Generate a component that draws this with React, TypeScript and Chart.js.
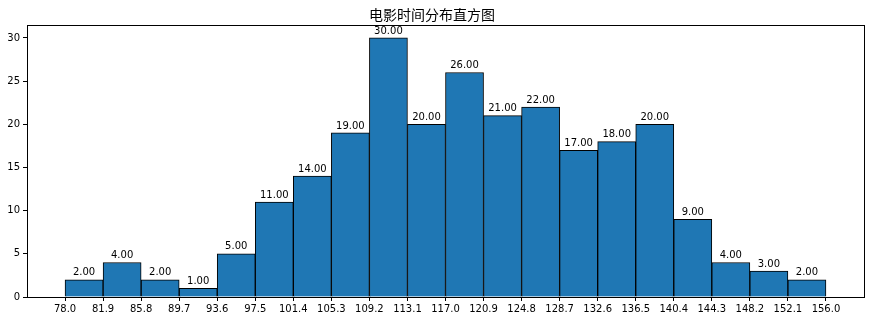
import React, { useEffect, useRef } from "react";
import { Chart, registerables } from "chart.js";

Chart.register(...registerables);

const binEdges = [78.0, 81.9, 85.8, 89.7, 93.6, 97.5, 101.4, 105.3, 109.2, 113.1, 117.0, 120.9, 124.8, 128.7, 132.6, 136.5, 140.4, 144.3, 148.2, 152.1, 156.0];
const counts = [2, 4, 2, 1, 5, 11, 14, 19, 30, 20, 26, 21, 22, 17, 18, 20, 9, 4, 3, 2];
const yTicks = [0, 5, 10, 15, 20, 25, 30];
const title = "电影时间分布直方图";

const FONT = "'DejaVu Sans', sans-serif";

export default function App() {
  const ref = useRef<HTMLCanvasElement | null>(null);
  useEffect(() => {
    document.body.style.margin = "0";
    const canvas = ref.current!;
    const points = counts.map((c, i) => ({ x: (binEdges[i] + binEdges[i + 1]) / 2, y: c }));
    const valueLabels = {
      id: "valueLabels",
      afterDatasetsDraw(chart: any) {
        const ctx = chart.ctx;
        const meta = chart.getDatasetMeta(0);
        ctx.save();
        ctx.fillStyle = "#000";
        ctx.font = "10px " + FONT;
        ctx.textAlign = "center";
        ctx.textBaseline = "bottom";
        meta.data.forEach((bar: any, i: number) => {
          ctx.fillText(counts[i].toFixed(2), bar.x, bar.y - 2);
        });
        ctx.restore();
      },
    };
    const frame = {
      id: "frame",
      afterDraw(chart: any) {
        const { left, top, right, bottom } = chart.chartArea;
        const ctx = chart.ctx;
        ctx.save();
        ctx.strokeStyle = "#000";
        ctx.lineWidth = 1;
        ctx.strokeRect(Math.round(left) + 0.5, Math.round(top) + 0.5, Math.round(right - left), Math.round(bottom - top));
        ctx.restore();
      },
    };
    const chart = new Chart(canvas, {
      type: "bar",
      data: {
        datasets: [
          {
            data: points as any,
            backgroundColor: "#1f77b4",
            borderColor: "#000",
            borderWidth: 1,
            barPercentage: 1,
            categoryPercentage: 1,
          },
        ],
      },
      options: {
        responsive: false,
        animation: false,
        layout: { padding: { left: 0, right: 10, top: 0, bottom: 0 } },
        plugins: {
          legend: { display: false },
          tooltip: { enabled: false },
          title: {
            display: true,
            text: title,
            color: "#000",
            font: { family: "'Noto Sans CJK SC', sans-serif", size: 14, weight: "normal" as any },
            padding: { top: 6, bottom: 2.2 },
          },
        },
        scales: {
          x: {
            type: "linear",
            min: 74.1,
            max: 159.9,
            offset: false,
            afterBuildTicks(scale: any) {
              scale.ticks = binEdges.map((v) => ({ value: v }));
            },
            afterFit(scale: any) {
              scale.height = 24;
            },
            ticks: {
              autoSkip: false,
              maxRotation: 0,
              color: "#000",
              font: { family: FONT, size: 10 },
              padding: 2,
              callback: (v: any) => Number(v).toFixed(1),
            },
            grid: { offset: false, drawOnChartArea: false, drawTicks: true, tickLength: 4, color: "#000" },
            border: { display: true, color: "#000" },
          },
          y: {
            type: "linear",
            min: 0,
            max: 31.5,
            afterBuildTicks(scale: any) {
              scale.ticks = yTicks.map((v) => ({ value: v }));
            },
            afterFit(scale: any) {
              scale.width = 27;
            },
            ticks: {
              color: "#000",
              font: { family: FONT, size: 10 },
              padding: 3,
            },
            grid: { drawOnChartArea: false, drawTicks: true, tickLength: 4, color: "#000" },
            border: { display: true, color: "#000" },
          },
        },
      },
      plugins: [valueLabels, frame],
    });
    return () => chart.destroy();
  }, []);
  return (
    <div style={{ position: "absolute", left: 0, top: 0, width: 874, height: 321, background: "#fff" }}>
      <canvas ref={ref} width={874} height={321} style={{ width: 874, height: 321 }} />
    </div>
  );
}
